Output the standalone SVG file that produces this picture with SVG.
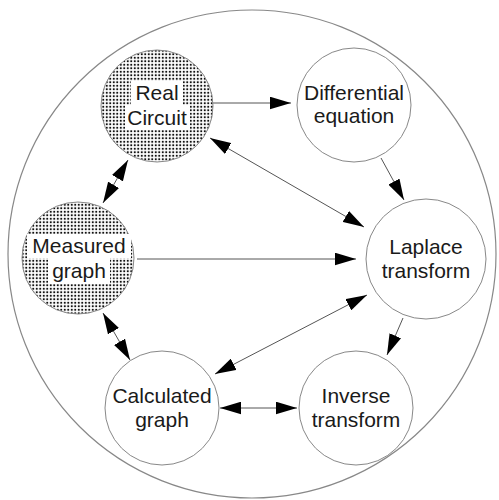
<svg xmlns="http://www.w3.org/2000/svg" width="499" height="500" viewBox="0 0 499 500">
  <style>
    .node { fill: #fff; stroke: #888; stroke-width: 1; }
    .dotted { fill: url(#dots); stroke: #888; stroke-width: 1; }
    .lbl { font-family: "Liberation Sans", Arial, sans-serif; font-size: 21px; fill: #1a1a1a; text-anchor: middle; }
    .conn { stroke: #555; stroke-width: 1; fill: none; }
    .outer { fill: none; stroke: #888; stroke-width: 1.2; }
  </style>
  <defs>
    <pattern id="dots" width="3.5" height="3.5" patternUnits="userSpaceOnUse">
      <rect width="3.5" height="3.5" fill="#fff"/>
      <rect x="0.8" y="0.8" width="1.9" height="1.9" fill="#111"/>
    </pattern>
    <marker id="arr" viewBox="0 0 20 12" refX="20" refY="6" markerWidth="21" markerHeight="13" markerUnits="userSpaceOnUse" orient="auto-start-reverse">
      <path d="M0,0 L20,6 L0,12 z" fill="#000"/>
    </marker>
  </defs>

  <circle class="outer" cx="252" cy="254" r="244"/>

  <g id="connectors">
    <line class="conn" x1="213" y1="103" x2="291" y2="103" marker-end="url(#arr)"/>
    <line class="conn" x1="381" y1="158" x2="404" y2="200" marker-end="url(#arr)"/>
    <line class="conn" x1="210" y1="138" x2="364" y2="227" marker-start="url(#arr)" marker-end="url(#arr)"/>
    <line class="conn" x1="128" y1="160" x2="103" y2="203" marker-start="url(#arr)" marker-end="url(#arr)"/>
    <line class="conn" x1="137" y1="259" x2="356" y2="259" marker-end="url(#arr)"/>
    <line class="conn" x1="103" y1="313" x2="130" y2="360" marker-start="url(#arr)" marker-end="url(#arr)"/>
    <line class="conn" x1="367" y1="295" x2="215" y2="374" marker-start="url(#arr)" marker-end="url(#arr)"/>
    <line class="conn" x1="403" y1="318" x2="387" y2="355" marker-end="url(#arr)"/>
    <line class="conn" x1="220" y1="408" x2="297" y2="408" marker-start="url(#arr)" marker-end="url(#arr)"/>
  </g>

  <g id="real-circuit">
    <circle class="dotted" cx="157" cy="106" r="56"/>
    <rect x="131" y="81" width="52" height="24" fill="#fff"/>
    <rect x="125" y="105" width="65" height="25" fill="#fff"/>
    <text class="lbl" x="157" y="100">Real</text>
    <text class="lbl" x="157" y="125">Circuit</text>
  </g>

  <g id="differential-equation">
    <circle class="node" cx="354" cy="105" r="57"/>
    <text class="lbl" x="354" y="100">Differential</text>
    <text class="lbl" x="354" y="123">equation</text>
  </g>

  <g id="measured-graph">
    <circle class="dotted" cx="78" cy="258" r="56"/>
    <rect x="27" y="234" width="104" height="24" fill="#fff"/>
    <rect x="48" y="258" width="62" height="26" fill="#fff"/>
    <text class="lbl" x="79" y="253">Measured</text>
    <text class="lbl" x="79" y="278">graph</text>
  </g>

  <g id="laplace-transform">
    <circle class="node" cx="426" cy="259" r="60"/>
    <text class="lbl" x="426" y="254">Laplace</text>
    <text class="lbl" x="426" y="278">transform</text>
  </g>

  <g id="calculated-graph">
    <circle class="node" cx="162" cy="408" r="57"/>
    <text class="lbl" x="162" y="403">Calculated</text>
    <text class="lbl" x="162" y="427">graph</text>
  </g>

  <g id="inverse-transform">
    <circle class="node" cx="356" cy="408" r="57"/>
    <text class="lbl" x="356" y="403">Inverse</text>
    <text class="lbl" x="356" y="427">transform</text>
  </g>
</svg>
